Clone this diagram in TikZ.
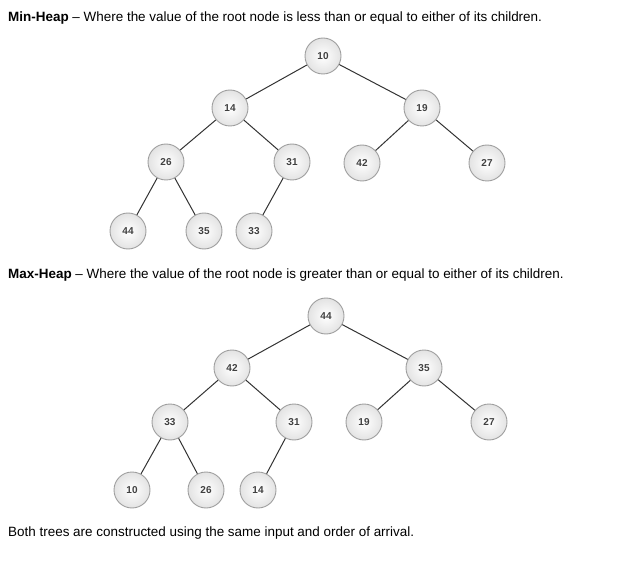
\documentclass[tikz,border=0pt]{standalone}
\usepackage{fontspec}
\setmainfont{Liberation Sans}
\begin{document}
\begin{tikzpicture}[x=1pt,y=-1pt,
  hn/.style={circle,draw=gray!75,line width=0.9pt,inner color=white,outer color=gray!22,minimum size=36pt,inner sep=0pt,font=\fontsize{10}{11}\selectfont\bfseries,text=black!75},
  ed/.style={draw=black!80,line width=1pt},
  txt/.style={anchor=west,inner sep=0pt,font=\fontsize{13.45}{15}\selectfont}]
\useasboundingbox (0,0) rectangle (624,564);
\node[txt] (t1) at (8,18) {\textbf{Min-Heap} – Where the value of the root node is less than or equal to either of its children.};
\node[hn] (a10) at (323,56) {10};
\node[hn] (a14) at (230,108) {14};
\node[hn] (a19) at (422,108) {19};
\node[hn] (a26) at (166,162) {26};
\node[hn] (a31) at (292,162) {31};
\node[hn] (a42) at (362,163) {42};
\node[hn] (a27) at (487,163) {27};
\node[hn] (a44) at (128,231) {44};
\node[hn] (a35) at (204,231) {35};
\node[hn] (a33) at (254,231) {33};
\draw[ed] (a10)--(a14); \draw[ed] (a10)--(a19);
\draw[ed] (a14)--(a26); \draw[ed] (a14)--(a31);
\draw[ed] (a19)--(a42); \draw[ed] (a19)--(a27);
\draw[ed] (a26)--(a44); \draw[ed] (a26)--(a35);
\draw[ed] (a31)--(a33);
\node[txt] (t2) at (8,275) {\textbf{Max-Heap} – Where the value of the root node is greater than or equal to either of its children.};
\node[hn] (b44) at (326,316) {44};
\node[hn] (b42) at (232,368) {42};
\node[hn] (b35) at (424,368) {35};
\node[hn] (b33) at (170,422) {33};
\node[hn] (b31) at (294,422) {31};
\node[hn] (b19) at (364,422) {19};
\node[hn] (b27) at (489,422) {27};
\node[hn] (b10) at (132,490) {10};
\node[hn] (b26) at (206,490) {26};
\node[hn] (b14) at (258,490) {14};
\draw[ed] (b44)--(b42); \draw[ed] (b44)--(b35);
\draw[ed] (b42)--(b33); \draw[ed] (b42)--(b31);
\draw[ed] (b35)--(b19); \draw[ed] (b35)--(b27);
\draw[ed] (b33)--(b10); \draw[ed] (b33)--(b26);
\draw[ed] (b31)--(b14);
\node[txt] (t3) at (8,533) {Both trees are constructed using the same input and order of arrival.};
\end{tikzpicture}
\end{document}
